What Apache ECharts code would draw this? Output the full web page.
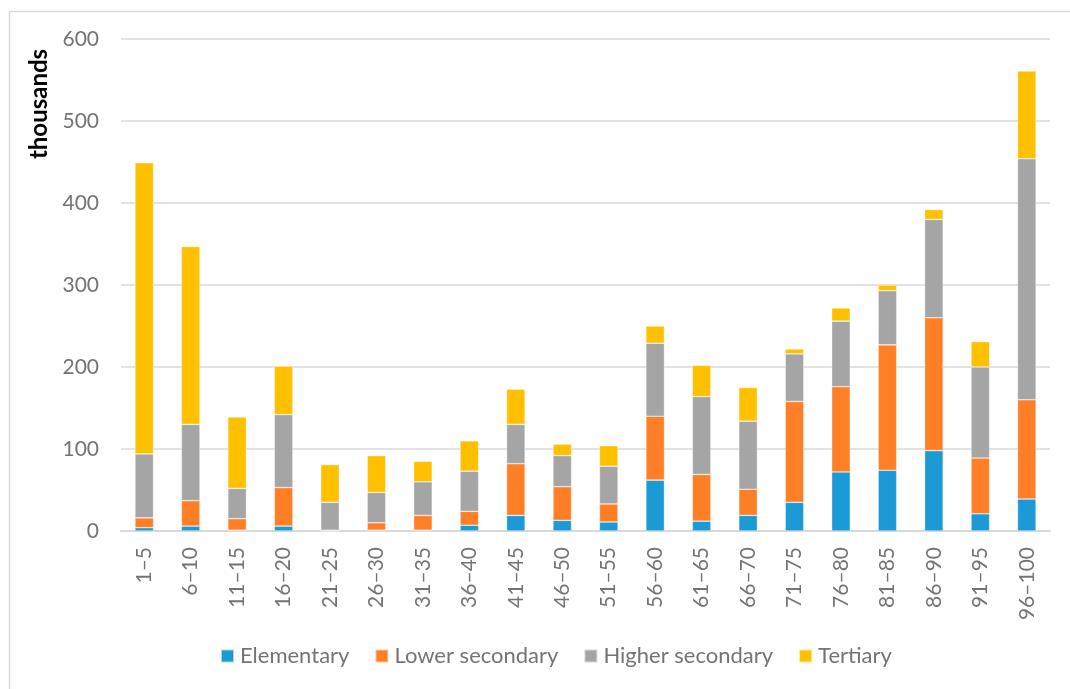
<!DOCTYPE html>
<html>
<head>
<meta charset="utf-8">
<script src="https://cdn.jsdelivr.net/npm/echarts@6/dist/echarts.min.js"></script>
<style>
html,body{margin:0;padding:0;background:#fff;}
#c{width:1070px;height:689px;}
</style>
</head>
<body>
<div id="c"></div>
<script>
var categories = ['1–5','6–10','11–15','16–20','21–25','26–30','31–35','36–40','41–45','46–50','51–55','56–60','61–65','66–70','71–75','76–80','81–85','86–90','91–95','96–100'];
var elementary     = [4, 6, 1, 6, 0, 1, 1, 7, 19, 13, 11, 62, 12, 19, 35, 72, 74, 98, 21, 39];
var lowerSecondary = [12, 31, 14, 47, 1, 9, 18, 17, 63, 41, 22, 78, 57, 32, 123, 104, 153, 162, 68, 121];
var higherSecondary= [78, 93, 37, 89, 34, 37, 41, 49, 48, 38, 46, 89, 95, 83, 58, 80, 66, 120, 111, 294];
var tertiary       = [355, 217, 87, 59, 46, 45, 25, 37, 43, 14, 25, 21, 38, 41, 6, 16, 7, 12, 31, 107];
var yTicks = [0, 100, 200, 300, 400, 500, 600];

var font = 'Lato, "Open Sans", sans-serif';
var chart = echarts.init(document.getElementById('c'), null, {renderer:'canvas'});

function mk(name, data, color) {
  return {
    name: name, type: 'bar', stack: 'total', data: data,
    barWidth: '40%',
    itemStyle: {color: color, borderColor: 'rgba(255,255,255,0.6)', borderWidth: 0.6},
    emphasis: {disabled: true}
  };
}

chart.setOption({
  animation: false,
  textStyle: {fontFamily: font},
  grid: {left: 121, right: 20, top: 39, bottom: 158, containLabel: false},
  graphic: [
    {type: 'rect', shape: {x: 9.5, y: 11.5, width: 1080, height: 700}, style: {fill: 'none', stroke: '#d9d9d9', lineWidth: 1.5}, silent: true},
    {type: 'text', x: 39, y: 104, rotation: Math.PI/2, style: {text: 'thousands', font: 'bold 24px ' + font, fill: '#000', align: 'center', verticalAlign: 'middle'}}
  ],
  legend: {
    bottom: 17, left: 215,
    itemWidth: 13, itemHeight: 13, itemGap: 25,
    icon: 'rect',
    textStyle: {fontSize: 22, color: '#747474', fontFamily: font, padding: [0, 0, 0, 1]},
    data: ['Elementary','Lower secondary','Higher secondary','Tertiary']
  },
  xAxis: {
    type: 'category', data: categories,
    axisLine: {lineStyle: {color: '#d9d9d9', width: 2}},
    axisTick: {show: false},
    axisLabel: {rotate: 90, fontSize: 21, color: '#747474', margin: 16, interval: 0, fontFamily: font}
  },
  yAxis: {
    type: 'value', min: yTicks[0], max: yTicks[yTicks.length-1], interval: 100,
    axisLine: {show: false}, axisTick: {show: false},
    axisLabel: {fontSize: 21, color: '#747474', margin: 22, fontFamily: font},
    splitLine: {lineStyle: {color: '#d9d9d9', width: 1.5}}
  },
  series: [
    mk('Elementary', elementary, '#1B9AD6'),
    mk('Lower secondary', lowerSecondary, '#FF7F27'),
    mk('Higher secondary', higherSecondary, '#A5A5A5'),
    mk('Tertiary', tertiary, '#FFC000')
  ]
});
</script>
</body>
</html>
